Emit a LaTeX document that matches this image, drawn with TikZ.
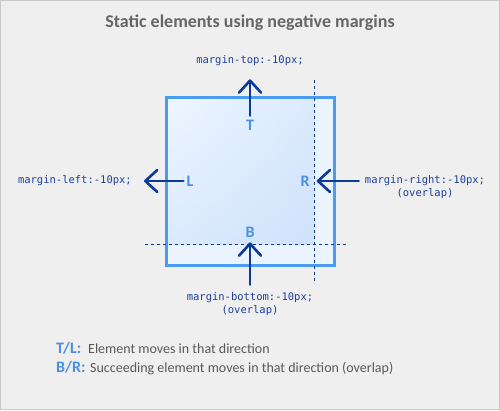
\documentclass[tikz,border=0pt]{standalone}
\usepackage{fontspec}
\setmainfont{Carlito}
\setmonofont{DejaVu Sans Mono}
\usetikzlibrary{arrows.meta,positioning,shadings}
\definecolor{bgray}{HTML}{EFEFEF}
\definecolor{frame}{HTML}{C8C8C8}
\definecolor{titlegray}{HTML}{666666}
\definecolor{codeblue}{HTML}{1D3E9E}
\definecolor{arrowblue}{HTML}{0B3A98}
\definecolor{labelblue}{HTML}{4A8FE0}
\definecolor{boxedge}{HTML}{4A9CF0}
\definecolor{boxpale}{HTML}{EAF3FE}
\definecolor{boxlight}{HTML}{EEF6FF}
\definecolor{boxdark}{HTML}{CFE2FB}

\begin{document}
\begin{tikzpicture}[x=1pt,y=-1pt,
 code/.style={font=\ttfamily\fontsize{10.5}{12}\selectfont,text=codeblue,inner sep=0pt},
 side/.style={font=\bfseries\fontsize{16}{18}\selectfont,text=labelblue,inner sep=0pt},
 push/.style={draw=arrowblue,line width=2.6pt,line cap=round,-{Straight Barb[length=12pt,width=22pt,round]}},
 guide/.style={draw=arrowblue,line width=0.8pt,dash pattern=on 3pt off 3pt},
 legkey/.style={font=\bfseries\fontsize{16}{18}\selectfont,text=labelblue,inner sep=0pt,anchor=base west},
 legtext/.style={font=\fontsize{14}{16}\selectfont,text=black!65,inner sep=0pt,anchor=base west}]
% background and frame
\fill[bgray] (0,0) rectangle (500,410);
\draw[frame,line width=1pt] (0.5,0.5) rectangle (499.5,409.5);
\useasboundingbox (0,0) rectangle (500,410);

\node[font=\bfseries\fontsize{18}{20}\selectfont,text=titlegray] (title) at (250,23) {Static elements using negative margins};

% the element
\fill[boxpale] (166,97) rectangle (334,265);
\shade[upper left=boxlight,upper right=boxdark!60!boxlight,lower left=boxdark!60!boxlight,lower right=boxdark] (166,97) rectangle (314,244);
\draw[boxedge,line width=3pt] (166,97) rectangle (334,265);
\draw[guide] (314,80) -- (314,284);
\draw[guide] (145,244) -- (349,244);

\node[side] (T) at (250,125) {T};
\node[side] (L) at (190,181) {L};
\node[side] (R) at (305,181) {R};
\node[side] (B) at (250,232) {B};

\node[code] (mtop) at (250,61) {margin-top:-10px;};
\node[code,anchor=east] (mleft) at (132,181) {margin-left:-10px;};
\node[code] (mright) at (425,181) {margin-right:-10px;};
\node[code,below=2pt of mright] (mrightov) {(overlap)};
\node[code] (mbottom) at (250,298) {margin-bottom:-10px;};
\node[code,below=2pt of mbottom] (mbottomov) {(overlap)};

\draw[push,shorten <=4pt,shorten >=13pt] (T) -- (mtop);
\draw[push,shorten <=3pt,shorten >=12pt] (L) -- (mleft);
\draw[push,shorten <=6pt,shorten >=7pt] (mright) -- (R);
\draw[push,shorten <=8pt,shorten >=5pt] (mbottom) -- (B);

% legend
\node[legkey] (keyTL) at (56,353) {T/L:};
\node[legtext] (txtTL) at (88,353) {Element moves in that direction};
\node[legkey] (keyBR) at (56,372) {B/R:};
\node[legtext] (txtBR) at (90,372) {Succeeding element moves in that direction (overlap)};
\end{tikzpicture}
\end{document}
